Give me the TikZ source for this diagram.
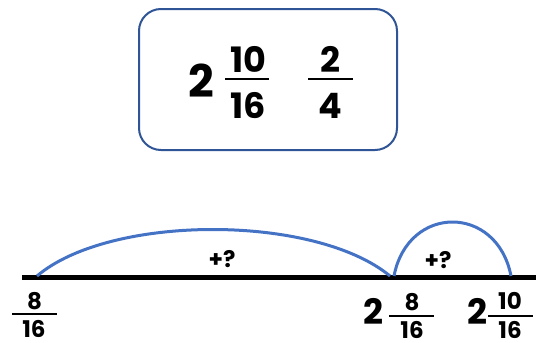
\documentclass[tikz,border=0pt]{standalone}
\usepackage{fontspec}
\setmainfont{Poppins}
\definecolor{arcblue}{HTML}{4472C4}
\definecolor{boxblue}{HTML}{2F5597}
\begin{document}
\begin{tikzpicture}[x=1pt,y=-1pt,
  num/.style={inner sep=0pt,font=\bfseries\fontsize{23}{23}\selectfont},
  bignum/.style={inner sep=0pt,font=\bfseries\fontsize{35}{35}\selectfont},
  hugenum/.style={inner sep=0pt,font=\bfseries\fontsize{45}{45}\selectfont},
  lab/.style={inner sep=0pt,font=\bfseries\fontsize{23}{23}\selectfont},
  fbar/.style={line width=2pt},
  jump/.style={draw=arcblue,line width=3pt}]
\useasboundingbox (0,0) rectangle (536,343);
% box
\node[draw=boxblue,line width=2pt,rounded corners=22pt,minimum width=258pt,minimum height=141pt] (box) at (268,79.5) {};
\node[hugenum] (b2) at (201,81) {2};
\node[bignum] (bn1) at (248,59.5) {10};
\coordinate (bb1l) at (225,79); \coordinate (bb1r) at (269,79);
\draw[fbar,line width=2.5pt] (bb1l) -- (bb1r);
\node[bignum] (bd1) at (248,106) {16};
\node[bignum] (bn2) at (330,59.5) {2};
\coordinate (bb2l) at (308,79); \coordinate (bb2r) at (353,79);
\draw[fbar,line width=2.5pt] (bb2l) -- (bb2r);
\node[bignum] (bd2) at (330,106) {4};
% number line
\coordinate (ls) at (22,277); \coordinate (le) at (536,277);
\draw[line width=5pt] (ls) -- (le);
\coordinate (p1) at (37,276); \coordinate (p2) at (390,276); \coordinate (p3) at (511,276);
\draw[jump] (p1) .. controls (110,214) and (315,214) .. (p2);
\draw[jump] (394,276) .. controls (408,204) and (497,204) .. (p3);
\node[lab] (l1) at (222,259) {+?};
\node[lab] (l2) at (438,260) {+?};
% labels
\node[num] (n1) at (34.5,301.5) {8};
\coordinate (f1l) at (12,314); \coordinate (f1r) at (57,314);
\draw[fbar] (f1l) -- (f1r);
\node[num] (d1) at (34,329) {16};
\node[bignum] (w2) at (373,311) {2};
\node[num] (n2) at (412,302.5) {8};
\coordinate (f2l) at (389,316); \coordinate (f2r) at (434,316);
\draw[fbar] (f2l) -- (f2r);
\node[num] (d2) at (412,329.5) {16};
\node[bignum] (w3) at (477,311) {2};
\node[num] (n3) at (510,301) {10};
\coordinate (f3l) at (488,316); \coordinate (f3r) at (533,316);
\draw[fbar] (f3l) -- (f3r);
\node[num] (d3) at (510,329.5) {16};
\end{tikzpicture}
\end{document}
